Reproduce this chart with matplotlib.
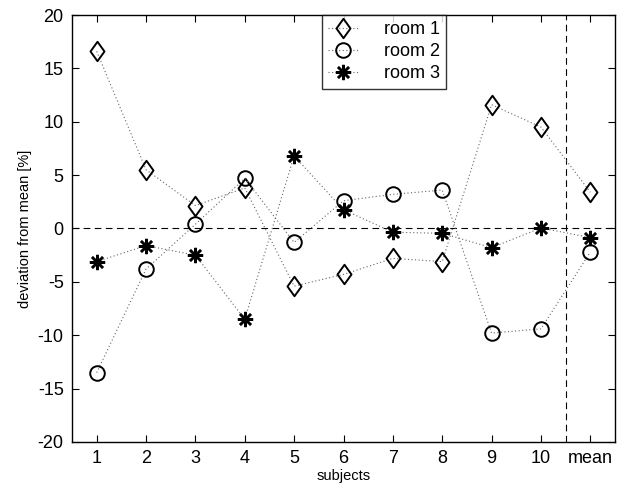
import numpy as np
import matplotlib
matplotlib.use('Agg')
import matplotlib.pyplot as plt
from matplotlib.path import Path

plt.rcParams['font.family'] = ['Liberation Sans', 'DejaVu Sans']
plt.rcParams['axes.unicode_minus'] = False

# x positions: 10 subjects + mean
xticks = list(range(1, 12))
xlabels = ['1', '2', '3', '4', '5', '6', '7', '8', '9', '10', 'mean']

room1 = [16.6, 5.5, 2.15, 3.8, -5.4, -4.3, -2.8, -3.1, 11.6, 9.5, 3.4]
room2 = [-13.5, -3.8, 0.4, 4.7, -1.3, 2.6, 3.2, 3.6, -9.8, -9.4, -2.2]
room3 = [-3.1, -1.6, -2.5, -8.5, 6.8, 1.75, -0.35, -0.45, -1.8, 0.05, -0.85]

# matlab style diamond (taller than wide)
diamond = Path([(0, 1), (0.72, 0), (0, -1), (-0.72, 0), (0, 1)],
               [Path.MOVETO, Path.LINETO, Path.LINETO, Path.LINETO, Path.CLOSEPOLY])

fig = plt.figure(figsize=(6.25, 4.84), dpi=100)
ax = fig.add_axes([0.1152, 0.0868, 0.8688, 0.8822])

line_kw = dict(color='0.4', linestyle=(0, (1, 2.2)), linewidth=0.8,
               markerfacecolor='none', markeredgecolor='k')
ax.plot(xticks, room1, marker=diamond, markersize=14, markeredgewidth=1.4,
        label='room 1', **line_kw)
ax.plot(xticks, room2, marker='o', markersize=10.5, markeredgewidth=1.4,
        label='room 2', **line_kw)
ax.plot(xticks, room3, marker=(8, 2, 0), markersize=11, markeredgewidth=1.8,
        label='room 3', **line_kw)

ax.axhline(0, color='k', linestyle=(0, (6, 4)), linewidth=0.8, zorder=1)
ax.axvline(10.5, color='k', linestyle=(0, (6, 4)), linewidth=0.8, zorder=1)

ax.set_xlim(0.5, 11.5)
ax.set_ylim(-20, 20)
ax.set_xticks(xticks)
ax.set_xticklabels(xlabels)
ax.set_yticks(np.arange(-20, 21, 5))
ax.tick_params(direction='in', top=True, right=True, length=5, width=0.8,
               labelsize=13, pad=6)
for sp in ax.spines.values():
    sp.set_linewidth(1.0)

ax.set_xlabel('subjects', fontsize=10.5, labelpad=1)
ax.set_ylabel('deviation from mean [%]', fontsize=10.5, labelpad=4)

leg = ax.legend(loc='upper left', bbox_to_anchor=(0.46, 1.0), borderaxespad=0,
                fontsize=13, frameon=True, fancybox=False, handlelength=1.7,
                labelspacing=0.28, borderpad=0.35, handletextpad=1.4)
leg.get_frame().set_edgecolor('k')
leg.get_frame().set_linewidth(1.0)

fig.savefig('out.png', dpi=100)
